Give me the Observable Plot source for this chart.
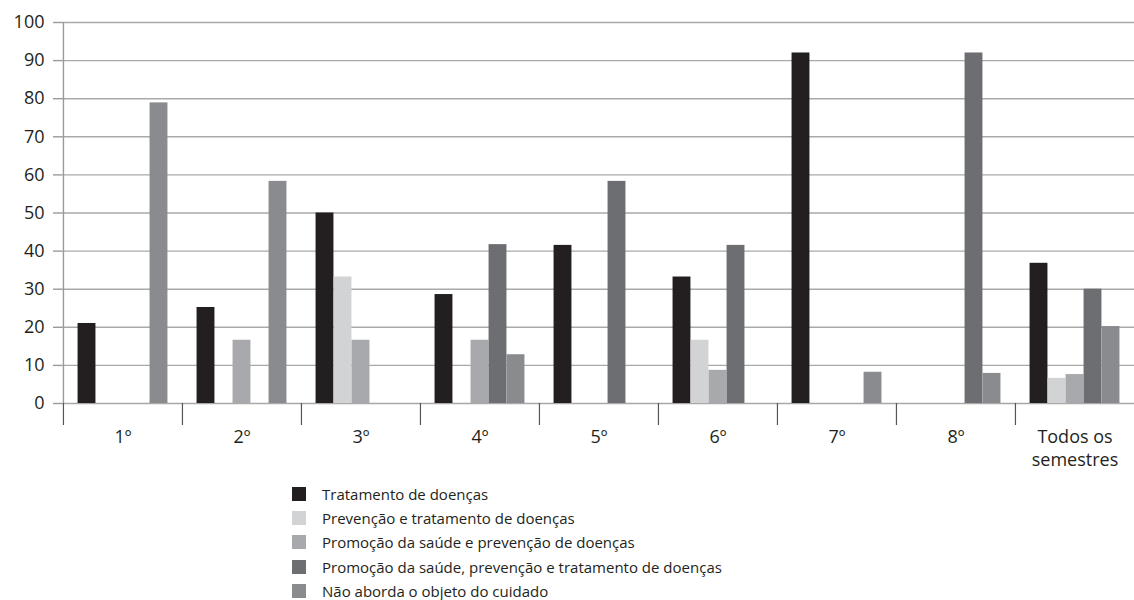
<!DOCTYPE html>
<html><head><meta charset="utf-8">
<script src="https://cdn.jsdelivr.net/npm/d3@7"></script>
<script src="https://cdn.jsdelivr.net/npm/@observablehq/plot@0.6"></script>
<style>
body{margin:0;background:#fff;font-family:"Open Sans",sans-serif;}
#legend{margin-left:292px;margin-top:6px;font-size:15px;color:#231f20;}
.item{display:flex;align-items:center;height:24.2px;}
.sw{width:14px;height:14px;margin-right:16px;flex:none;}
</style></head><body><div id="chart"></div><div id="legend"></div>
<script>
const groups = ["1º","2º","3º","4º","5º","6º","7º","8º","Todos os\nsemestres"];
const seriesNames = [
  "Tratamento de doenças",
  "Prevenção e tratamento de doenças",
  "Promoção da saúde e prevenção de doenças",
  "Promoção da saúde, prevenção e tratamento de doenças",
  "Não aborda o objeto do cuidado"
];
const seriesColors = ["#231f20","#d1d3d4","#a7a9ac","#6d6e71","#8a8b8f"];
const tratamento      = [21.0, 25.2, 50.0, 28.6, 41.5, 33.2, 92.0, 0, 36.8];
const prevTratamento  = [0, 0, 33.2, 0, 0, 16.6, 0, 0, 6.6];
const promocaoPrev    = [0, 16.6, 16.6, 16.6, 0, 8.7, 0, 0, 7.6];
const promocaoPrevTrat= [0, 0, 0, 41.7, 58.3, 41.5, 0, 92.0, 30.0];
const naoAborda       = [78.9, 58.3, 0, 12.8, 0, 0, 8.2, 7.9, 20.2];
const yTicks = [0,10,20,30,40,50,60,70,80,90,100];

const series = [tratamento, prevTratamento, promocaoPrev, promocaoPrevTrat, naoAborda];

const width = 1134, marginLeft = 62, marginRight = 0;
const bw = (width - marginLeft - marginRight) / groups.length;
const barW = 18;
const padL = (bw - barW * series.length) / 2;

const barMarks = series.map((vals, i) =>
  Plot.barY(groups.map((g, j) => ({g, v: vals[j]})), {
    x: "g", y: "v", fill: seriesColors[i],
    insetLeft: padL + i * barW,
    insetRight: bw - padL - (i + 1) * barW
  })
);

const chart = Plot.plot({
  width, height: 476,
  marginLeft, marginRight, marginTop: 22, marginBottom: 73,
  style: {fontFamily: "'Open Sans', sans-serif", fontSize: "18px", color: "#231f20", background: "#fff"},
  x: {type: "band", domain: groups, padding: 0, label: null},
  y: {domain: [0, 100], label: null},
  marks: [
    Plot.ruleY(yTicks, {stroke: "#a9a9a9", strokeWidth: 1.4}),
    Plot.ruleX([groups[0]], {x: d => d, dx: -bw / 2, y1: 0, y2: 100, stroke: "#9a9a9a", strokeWidth: 1.4}),
    Plot.axisY({ticks: yTicks, tickSize: 9, tickPadding: 9, stroke: "#9a9a9a", strokeWidth: 1.4, label: null, fill: "#231f20"}),
    ...barMarks,
    Plot.axisX({tickSize: 22, tickFormat: () => "", dx: -bw / 2, stroke: "#555", strokeWidth: 1.2, label: null}),
    Plot.axisX({tickSize: 0, tickPadding: 24, label: null, fill: "#231f20", lineHeight: 1.25})
  ]
});
document.getElementById("chart").appendChild(chart);

const legend = document.getElementById("legend");
seriesNames.forEach((n, i) => {
  const d = document.createElement("div");
  d.className = "item";
  d.innerHTML = `<span class="sw" style="background:${seriesColors[i]}"></span><span>${n}</span>`;
  legend.appendChild(d);
});
</script></body></html>
